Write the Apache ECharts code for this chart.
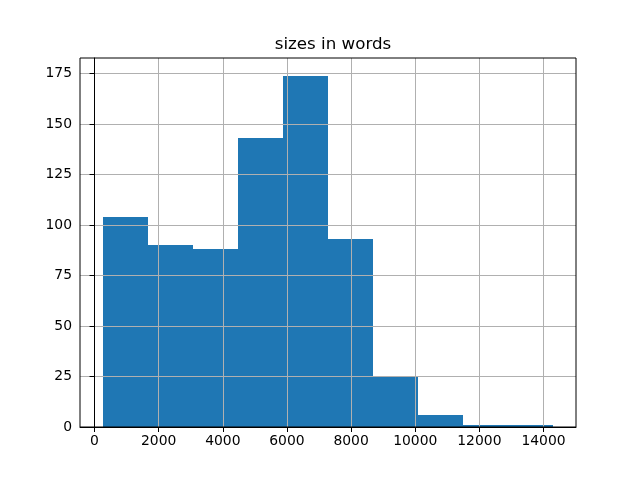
<!DOCTYPE html>
<html>
<head>
<meta charset="utf-8">
<script src="https://cdn.jsdelivr.net/npm/echarts@6/dist/echarts.min.js"></script>
<style>html,body{margin:0;padding:0;background:#fff}#c{width:640px;height:480px}</style>
</head>
<body>
<div id="c"></div>
<script>
var binEdges = [260, 1663, 3066, 4469, 5872, 7275, 8678, 10081, 11484, 12887, 14290];
var counts = [104, 90, 88, 143, 174, 93, 25, 6, 1, 1];
var xTicks = [0, 2000, 4000, 6000, 8000, 10000, 12000, 14000];
var yTicks = [0, 25, 50, 75, 100, 125, 150, 175];
var titleText = 'sizes in words';

var data = counts.map(function (c, i) { return [binEdges[i], binEdges[i + 1], c]; });

var chart = echarts.init(document.getElementById('c'), null, {renderer: 'canvas'});
var font = 'DejaVu Sans';
chart.setOption({
  animation: false,
  backgroundColor: '#fff',
  title: {
    text: titleText, left: 328, top: 31, textAlign: 'center',
    textStyle: {fontFamily: font, fontSize: 16.7, fontWeight: 'normal', color: '#000'}
  },
  grid: {left: 80, right: 64, top: 58, bottom: 53, show: true, borderColor: '#000', borderWidth: 1, backgroundColor: 'transparent', z: 4},
  xAxis: {
    type: 'value', min: -453, max: 15013, z: 3,
    axisLine: {show: true, lineStyle: {color: '#000', width: 1}},
    axisTick: {show: true, length: 5, inside: false, customValues: xTicks, lineStyle: {color: '#000'}},
    axisLabel: {customValues: xTicks, margin: 7, fontFamily: font, fontSize: 13.9, color: '#000',
      formatter: function (v) { return String(v); }},
    splitLine: {show: true, lineStyle: {color: '#b0b0b0', width: 1}}
  },
  yAxis: {
    type: 'value', min: 0, max: 182.7, z: 3,
    axisLine: {show: true, lineStyle: {color: '#000', width: 1}},
    axisTick: {show: true, length: 5, inside: false, customValues: yTicks, lineStyle: {color: '#000'}},
    axisLabel: {customValues: yTicks, margin: 8, fontFamily: font, fontSize: 13.9, color: '#000',
      formatter: function (v) { return String(v); }},
    splitLine: {show: true, lineStyle: {color: '#b0b0b0', width: 1}}
  },
  series: [{
    type: 'custom', z: 2,
    data: data,
    encode: {x: [0, 1], y: 2},
    renderItem: function (params, api) {
      var p0 = api.coord([api.value(0), 0]);
      var p1 = api.coord([api.value(1), api.value(2)]);
      var x0 = Math.round(p0[0]), x1 = Math.round(p1[0]);
      var y0 = Math.round(p0[1]), y1 = Math.round(p1[1]);
      return {
        type: 'rect',
        shape: {x: x0, y: y1, width: x1 - x0, height: y0 - y1},
        style: {fill: '#1f77b4'}
      };
    }
  }]
});
</script>
</body>
</html>
